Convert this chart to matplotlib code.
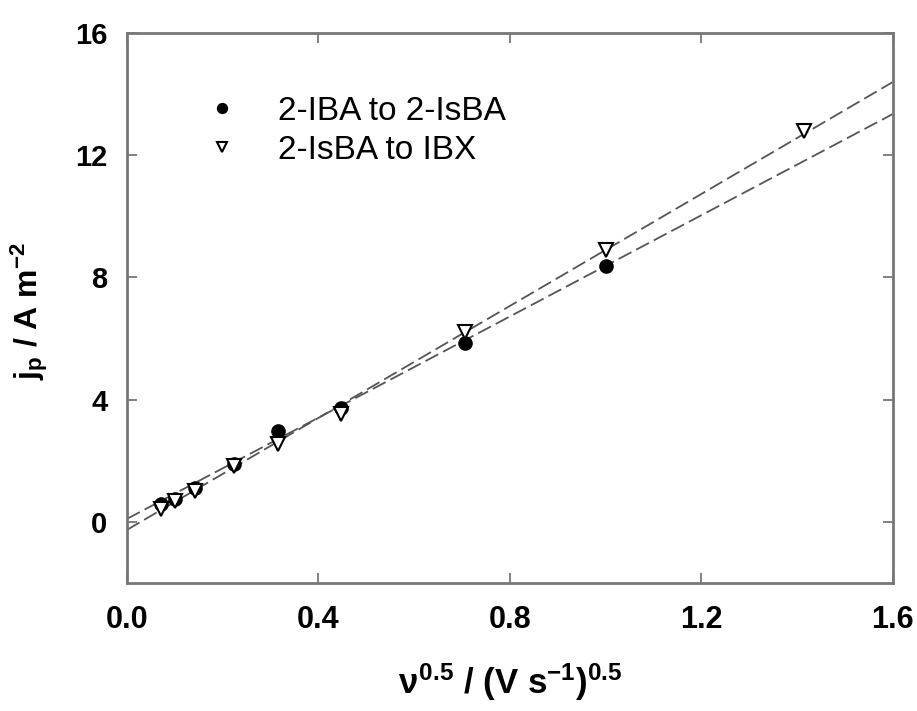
import matplotlib
matplotlib.use('agg')
import matplotlib.pyplot as plt
import numpy as np

# sqrt of scan rate, (V s-1)^0.5
x_iba = [0.0707, 0.1, 0.1414, 0.2236, 0.3162, 0.4472, 0.7071, 1.0]
j_iba = [0.6, 0.75, 1.1, 1.88, 2.97, 3.72, 5.85, 8.38]
x_isba = [0.0707, 0.1, 0.1414, 0.2236, 0.3162, 0.4472, 0.7071, 1.0, 1.4142]
j_isba = [0.42, 0.69, 1.0, 1.82, 2.55, 3.52, 6.2, 8.9, 12.8]

# fitted lines (slope, intercept)
fit_iba = (8.28, 0.1)
fit_isba = (9.16, -0.26)

names = ["2-IBA to 2-IsBA", "2-IsBA to IBX"]
xticks = [0.0, 0.4, 0.8, 1.2, 1.6]
yticks = [0, 4, 8, 12, 16]

plt.rcParams['font.family'] = ['Liberation Sans', 'DejaVu Sans']
plt.rcParams['mathtext.fontset'] = 'custom'
plt.rcParams['mathtext.rm'] = 'Liberation Sans:bold'
plt.rcParams['mathtext.it'] = 'Liberation Sans:bold'
plt.rcParams['mathtext.bf'] = 'Liberation Sans:bold'

fig = plt.figure(figsize=(9.17, 7.11), dpi=100)
ax = fig.add_axes([0.1385, 0.18, 0.835, 0.7735])

xs = np.array([0.0, 1.6])
for (m, b) in [fit_iba, fit_isba]:
    ax.plot(xs, m * xs + b, color='#555555', linewidth=1.3, dashes=(8, 3))

ax.plot(x_iba, j_iba, 'o', color='black', markersize=9.5, label=names[0], zorder=3)
ax.plot(x_isba, j_isba, 'v', markerfacecolor='white', markeredgecolor='black',
        markeredgewidth=1.5, markersize=9.5, label=names[1], zorder=4)

ax.set_xlim(0, 1.6)
ax.set_ylim(-2, 16)
ax.set_xticks(xticks)
ax.set_yticks(yticks)
ax.set_xticklabels(["%.1f" % t for t in xticks], fontsize=22, fontweight='bold')
ax.set_yticklabels([str(t) for t in yticks], fontsize=21, fontweight='bold')
ax.tick_params(direction='in', length=7, width=1.3, color='#777777',
               top=True, right=True)
ax.tick_params(axis='x', pad=16)
ax.tick_params(axis='y', pad=14)
for s in ax.spines.values():
    s.set_color('#777777')
    s.set_linewidth(2)

ax.set_xlabel(r'$\nu^{0.5}$ / (V s$^{\mathdefault{-1}}$)$^{0.5}$', fontsize=25, fontweight='bold', labelpad=19)
ax.set_ylabel(r'j$_\mathrm{p}$ / A m$^{-2}$', fontsize=23, fontweight='bold')
ax.yaxis.set_label_coords(-0.1, 0.495)

ax.legend(loc='upper left', bbox_to_anchor=(0.041, 0.941), frameon=False,
          fontsize=24, markerscale=0.75, handletextpad=0.7, labelspacing=0.25)

fig.savefig('out.png', dpi=100)
